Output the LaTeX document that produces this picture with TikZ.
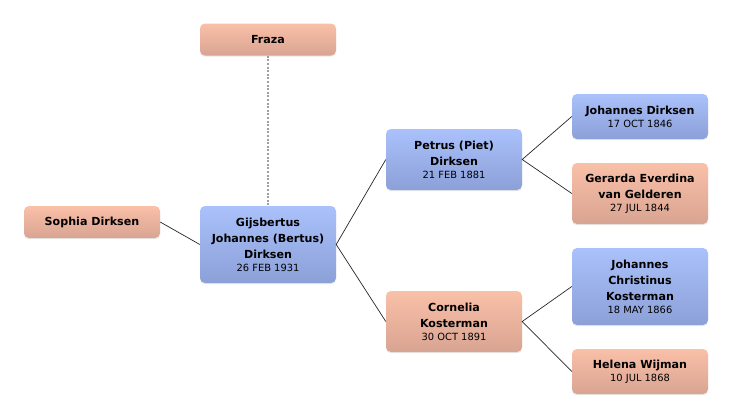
\documentclass[tikz,border=0pt]{standalone}
\usepackage{fontspec}
\usepackage{xcolor}
\usepackage{tikz}
\usetikzlibrary{shadows}
\newfontfamily\treefont{DejaVu Sans}
\newcommand{\bdate}{\mdseries\fontsize{9.9}{12}\selectfont}
\definecolor{maletop}{RGB}{170,193,251}
\definecolor{malebot}{RGB}{140,160,216}
\definecolor{femtop}{RGB}{250,192,168}
\definecolor{fembot}{RGB}{216,164,146}
\tikzset{
every picture/.style={x=1pt, y=-1pt},
%%%%%%%%%%  Node styles
person/.style={rounded corners=5pt, minimum width=136pt, inner sep=0pt,
               align=center, text=black,
               font=\treefont\bfseries\fontsize{11.1}{16}\selectfont,
               drop shadow={shadow xshift=0pt, shadow yshift=-1.2pt,
                            opacity=0.18}},
male/.style={person, top color=maletop, bottom color=malebot},
female/.style={person, top color=femtop, bottom color=fembot},
%%%% different line styles:
link/.style={line width=0.7pt, black!85},
partner/.style={line width=1.6pt, gray!75, dash pattern=on 2pt off 1.6pt}
}

\begin{document}
\begin{tikzpicture}
\useasboundingbox (0,0) rectangle (732,418);
%%root and partner
\node[female, minimum height=32pt] (fraza) at (268,39.5) {Fraza};
\node[female, minimum height=32pt] (sophia) at (92,222) {Sophia Dirksen};
\node[male, minimum height=77pt] (gijs) at (268,244.5)
	{Gijsbertus\\Johannes (Bertus)\\Dirksen\\[-3pt]{\bdate 26 FEB 1931}};
%%parents
\node[male, minimum height=61pt] (petrus) at (454,159.5)
	{Petrus (Piet)\\Dirksen\\[-3pt]{\bdate 21 FEB 1881}};
\node[female, minimum height=61pt] (cornelia) at (454,321.5)
	{Cornelia\\Kosterman\\[-3pt]{\bdate 30 OCT 1891}};
%%grandparents
\node[male, minimum height=45pt] (johd) at (640,116.5)
	{Johannes Dirksen\\[-3pt]{\bdate 17 OCT 1846}};
\node[female, minimum height=61pt] (gerarda) at (640,193.5)
	{Gerarda Everdina\\van Gelderen\\[-3pt]{\bdate 27 JUL 1844}};
\node[male, minimum height=77pt] (johk) at (640,286.5)
	{Johannes\\Christinus\\Kosterman\\[-3pt]{\bdate 18 MAY 1866}};
\node[female, minimum height=45pt] (helena) at (640,371.5)
	{Helena Wijman\\[-3pt]{\bdate 10 JUL 1868}};
%%connectors
\draw[partner] (fraza.south) -- (gijs.north);
\draw[link] (sophia.east) -- (gijs.west);
\draw[link] (petrus.west) -- (gijs.east) -- (cornelia.west);
\draw[link] (johd.west) -- (petrus.east) -- (gerarda.west);
\draw[link] (johk.west) -- (cornelia.east) -- (helena.west);
\end{tikzpicture}
\end{document}
